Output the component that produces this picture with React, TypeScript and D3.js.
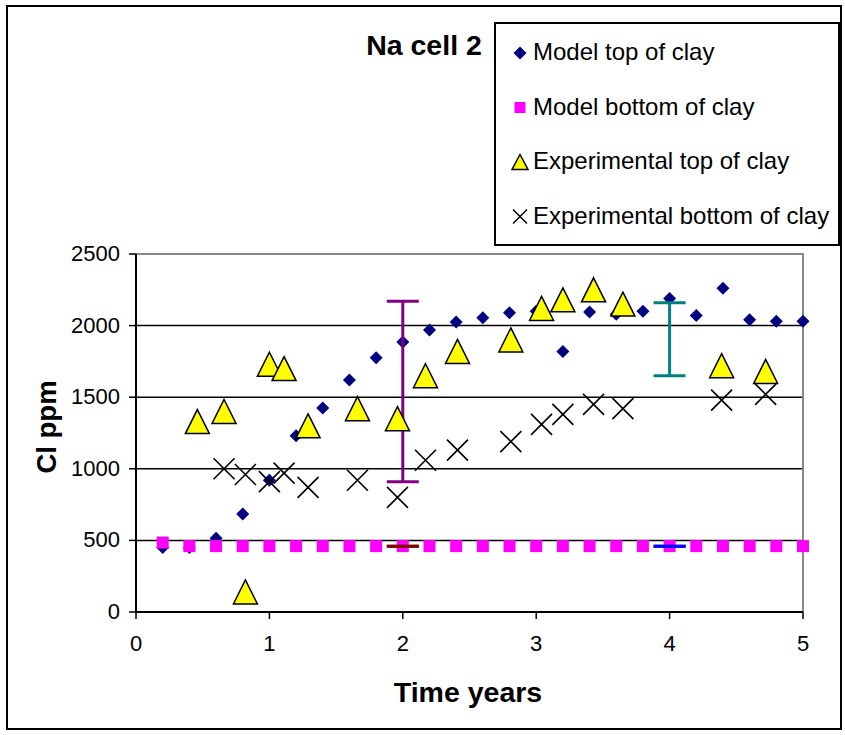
import React from 'react';
import * as d3 from 'd3';

// model runs, one point every 0.2 years
const modelX = [0.2, 0.4, 0.6, 0.8, 1.0, 1.2, 1.4, 1.6, 1.8, 2.0, 2.2, 2.4, 2.6, 2.8, 3.0, 3.2, 3.4, 3.6, 3.8, 4.0, 4.2, 4.4, 4.6, 4.8, 5.0];
const modelTop = [450, 450, 515, 685, 920, 1230, 1425, 1620, 1775, 1885, 1970, 2025, 2055, 2090, 2100, 1820, 2095, 2080, 2100, 2190, 2070, 2260, 2040, 2030, 2030];
const modelBottom = [485, 460, 460, 460, 460, 460, 460, 460, 460, 460, 460, 460, 460, 460, 460, 460, 460, 460, 460, 460, 460, 460, 460, 460, 460];

// measurements
const expTopX = [0.46, 0.66, 0.82, 1.0, 1.11, 1.29, 1.66, 1.96, 2.17, 2.41, 2.81, 3.04, 3.2, 3.43, 3.65, 4.39, 4.72];
const expTop = [1330, 1400, 140, 1730, 1700, 1300, 1420, 1350, 1650, 1820, 1900, 2120, 2180, 2250, 2150, 1720, 1680];
const expBottomX = [0.66, 0.82, 1.0, 1.11, 1.29, 1.66, 1.96, 2.17, 2.41, 2.81, 3.04, 3.2, 3.43, 3.65, 4.39, 4.72];
const expBottom = [1000, 960, 910, 970, 870, 920, 800, 1060, 1130, 1190, 1310, 1380, 1450, 1420, 1480, 1520];

// error bars
const errX = [2, 2, 4, 4];
const errLow = [910, 460, 1650, 460];
const errHigh = [2170, 460, 2160, 460];
const errColors = ['#800080', '#800000', '#008080', '#0000ff'];

const xTicks = [0, 1, 2, 3, 4, 5];
const yTicks = [0, 500, 1000, 1500, 2000, 2500];
const legendLabels = ['Model top of clay', 'Model bottom of clay', 'Experimental top of clay', 'Experimental bottom of clay'];

const W = 845;
const H = 735;
const font = 'Liberation Sans, Arial, sans-serif';

const x = d3.scaleLinear().domain([0, 5]).range([136, 803]);
const y = d3.scaleLinear().domain([0, 2500]).range([612, 254]);

const diamond = (cx: number, cy: number, r: number) =>
  `M${cx},${cy - r}L${cx + r},${cy}L${cx},${cy + r}L${cx - r},${cy}Z`;
const triangle = (cx: number, cy: number, w: number, h: number) =>
  `M${cx},${cy - h / 2}L${cx + w / 2},${cy + h / 2}L${cx - w / 2},${cy + h / 2}Z`;
const cross = (cx: number, cy: number, r: number) =>
  `M${cx - r},${cy - r}L${cx + r},${cy + r}M${cx - r},${cy + r}L${cx + r},${cy - r}`;

const legendMarker = (i: number, cx: number, cy: number) => {
  if (i === 0) return <path d={diamond(cx, cy, 6.5)} fill="#000080" />;
  if (i === 1) return <rect x={cx - 5.5} y={cy - 5.5} width={11} height={11} fill="#ff00ff" />;
  if (i === 2) return <path d={triangle(cx, cy, 16, 15)} fill="#ffff00" stroke="#000" strokeWidth={1.5} />;
  return <path d={cross(cx, cy, 7)} stroke="#000" strokeWidth={1.5} fill="none" />;
};

export default function App() {
  return (
    <svg width={W} height={H} style={{ position: 'absolute', left: 0, top: 0, background: '#fff' }} fontFamily={font}>
      <rect x={7} y={6} width={834} height={723} fill="#fff" stroke="#000" strokeWidth={2} />

      {/* gridlines */}
      {yTicks.filter(t => t > 0 && t < 2500).map(t => (
        <line key={t} x1={x(0)} x2={x(5)} y1={y(t)} y2={y(t)} stroke="#000" strokeWidth={1.5} />
      ))}
      {/* plot frame top/right */}
      <path d={`M${x(0)},${y(2500)}H${x(5)}V${y(0)}`} fill="none" stroke="#888" strokeWidth={2} />

      {/* axes */}
      <line x1={x(0)} x2={x(0)} y1={y(0)} y2={y(2500)} stroke="#000" strokeWidth={2} />
      <line x1={x(0)} x2={x(5)} y1={y(0)} y2={y(0)} stroke="#000" strokeWidth={2} />
      {yTicks.map(t => (
        <g key={t}>
          <line x1={x(0) - 7} x2={x(0)} y1={y(t)} y2={y(t)} stroke="#000" strokeWidth={1.5} />
          <text x={120} y={y(t) + 7} textAnchor="end" fontSize={22}>{t}</text>
        </g>
      ))}
      {xTicks.map(t => (
        <g key={t}>
          <line x1={x(t)} x2={x(t)} y1={y(0)} y2={y(0) + 7} stroke="#000" strokeWidth={1.5} />
          <text x={x(t)} y={651} textAnchor="middle" fontSize={22}>{t}</text>
        </g>
      ))}

      {/* axis titles */}
      <text x={468} y={702} textAnchor="middle" fontSize={28.5} fontWeight="bold">Time years</text>
      <text transform="translate(56,427) rotate(-90)" textAnchor="middle" fontSize={27.5} fontWeight="bold">Cl ppm</text>
      <text x={424} y={55} textAnchor="middle" fontSize={28.5} fontWeight="bold">Na cell 2</text>

      {/* model top */}
      {modelX.map((d, i) => (
        <path key={'mt' + i} d={diamond(x(d), y(modelTop[i]), 6.5)} fill="#000080" />
      ))}
      {/* model bottom */}
      {modelX.map((d, i) => (
        <rect key={'mb' + i} x={x(d) - 6} y={y(modelBottom[i]) - 6} width={12} height={12} fill="#ff00ff" />
      ))}

      {/* error bars */}
      {errX.map((d, i) => (
        <g key={'e' + i} stroke={errColors[i]} strokeWidth={3} fill="none">
          <line x1={x(d) - 16} x2={x(d) + 16} y1={y(errHigh[i])} y2={y(errHigh[i])} />
          <line x1={x(d) - 16} x2={x(d) + 16} y1={y(errLow[i])} y2={y(errLow[i])} />
          {errHigh[i] > errLow[i] && <line x1={x(d)} x2={x(d)} y1={y(errHigh[i])} y2={y(errLow[i])} />}
        </g>
      ))}

      {/* experimental top */}
      {expTopX.map((d, i) => (
        <path key={'et' + i} d={triangle(x(d), y(expTop[i]), 24, 24)} fill="#ffff00" stroke="#000" strokeWidth={1.5} strokeLinejoin="miter" />
      ))}
      {/* experimental bottom */}
      {expBottomX.map((d, i) => (
        <path key={'eb' + i} d={cross(x(d), y(expBottom[i]), 10.5)} stroke="#000" strokeWidth={1.6} fill="none" />
      ))}

      {/* legend */}
      <rect x={495} y={23} width={344} height={222} fill="#fff" stroke="#000" strokeWidth={2} />
      {legendLabels.map((l, i) => (
        <g key={l}>
          {legendMarker(i, 520, 53 + i * 54.5)}
          <text x={533} y={60 + i * 54.5} fontSize={24}>{l}</text>
        </g>
      ))}
    </svg>
  );
}
